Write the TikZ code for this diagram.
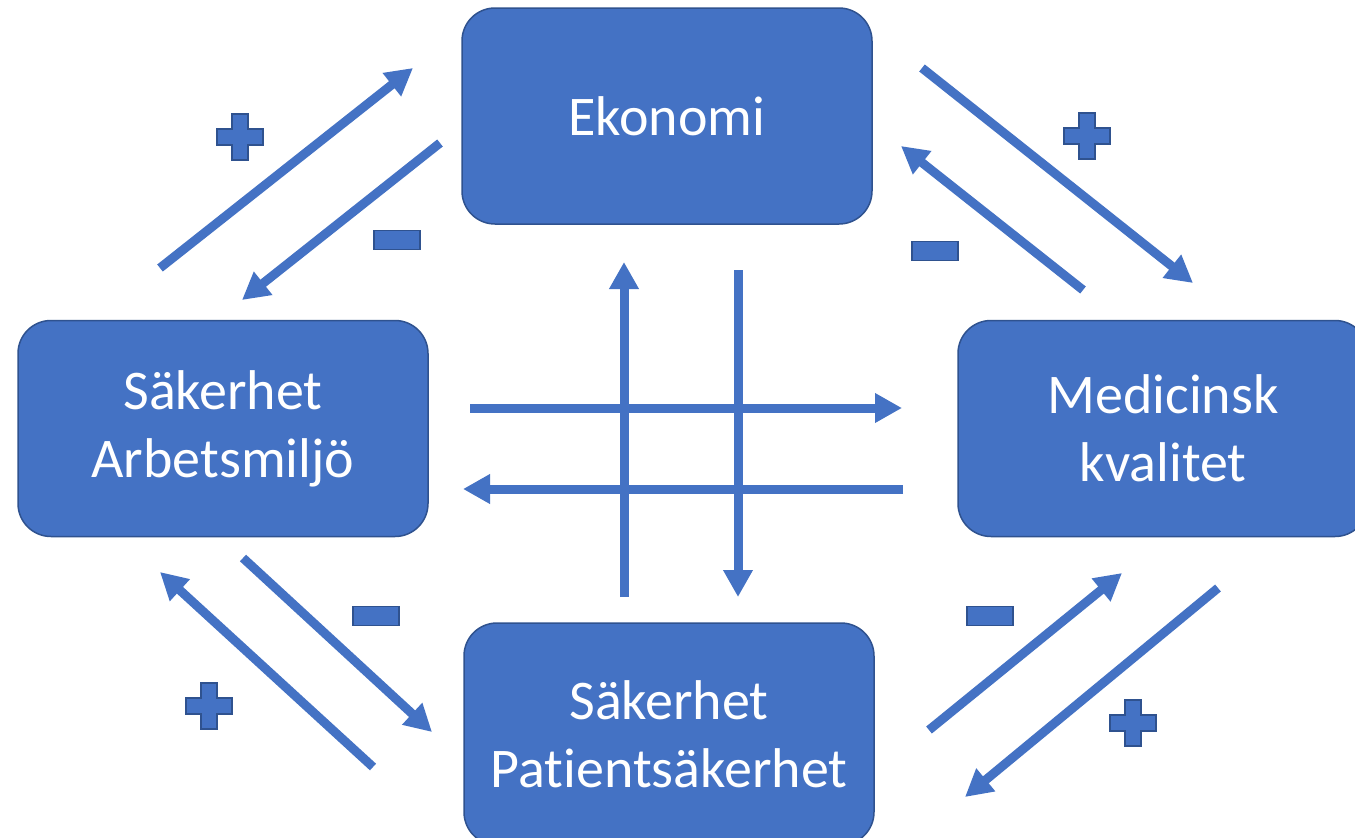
\documentclass[tikz,border=0pt]{standalone}
\usepackage{fontspec}
\setmainfont{Carlito}[Ligatures=NoCommon]
\usetikzlibrary{arrows.meta}
\definecolor{boxblue}{HTML}{4472C4}
\definecolor{edgeblue}{HTML}{2F528F}
\begin{document}
\begin{tikzpicture}[x=1pt,y=-1pt,
  factor/.style={draw=edgeblue, line width=1.5pt, fill=boxblue, rounded corners=33pt,
    text=white, font=\fontsize{56}{68}\selectfont, align=center,
    minimum width=410pt, minimum height=216pt, inner sep=0pt},
  flow/.style={draw=boxblue, line width=9pt, -{Triangle[length=27pt,width=28pt]}},
  sign/.style={fill=boxblue, draw=edgeblue, line width=1.2pt},
  minussign/.style={sign, rectangle, minimum width=46pt, minimum height=19pt, inner sep=0pt},
  plussign/.pic={\path[sign] (-8,-23) -- (8,-23) -- (8,-8) -- (23,-8) -- (23,8) -- (8,8)
      -- (8,23) -- (-8,23) -- (-8,8) -- (-23,8) -- (-23,-8) -- (-8,-8) -- cycle;}]
\clip (0,0) rectangle (1355,838);
\fill[white] (0,0) rectangle (1355,838);

% the four factors
\node[factor] (eko) at (667,116) {Ekonomi};
\node[factor] (arb) at (223,428.5) {Säkerhet\\Arbetsmiljö};
\node[factor] (med) at (1163,428.5) {Medicinsk\\kvalitet};
\node[factor, minimum height=222pt] (pat) at (669,734) {Säkerhet\\Patientsäkerhet};

% end points of the influence arrows
\coordinate (ae1) at (160,268);  \coordinate (ae2) at (413,68);
\coordinate (ea1) at (440,143);  \coordinate (ea2) at (242,300);
\coordinate (em1) at (922,68);   \coordinate (em2) at (1193,283);
\coordinate (me1) at (1083,290); \coordinate (me2) at (901,146);
\coordinate (pa1) at (373,767);  \coordinate (pa2) at (160,572);
\coordinate (ap1) at (243,558);  \coordinate (ap2) at (432,732);
\coordinate (pm1) at (929,730);  \coordinate (pm2) at (1122,573);
\coordinate (mp1) at (1218,588); \coordinate (mp2) at (965,797);
\coordinate (pe1) at (624,597);  \coordinate (pe2) at (624,262);
\coordinate (ep1) at (738,270);  \coordinate (ep2) at (738,597);
\coordinate (am1) at (470,408);  \coordinate (am2) at (902,408);
\coordinate (ma1) at (903,489);  \coordinate (ma2) at (463,489);

% diagonal arrows
\draw[flow] (ae1) -- (ae2);
\draw[flow] (ea1) -- (ea2);
\draw[flow] (em1) -- (em2);
\draw[flow] (me1) -- (me2);
\draw[flow] (pa1) -- (pa2);
\draw[flow] (ap1) -- (ap2);
\draw[flow] (pm1) -- (pm2);
\draw[flow] (mp1) -- (mp2);

% central crossing arrows
\draw[flow] (pe1) -- (pe2);
\draw[flow] (ep1) -- (ep2);
\draw[flow] (am1) -- (am2);
\draw[flow] (ma1) -- (ma2);

% signs
\pic at (240,137) {plussign};
\pic at (1087,136) {plussign};
\pic at (209,706) {plussign};
\pic at (1133,723) {plussign};
\node[minussign] (m1) at (397,240) {};
\node[minussign] (m2) at (935,251) {};
\node[minussign] (m3) at (376,616) {};
\node[minussign] (m4) at (990,616) {};
\end{tikzpicture}
\end{document}
